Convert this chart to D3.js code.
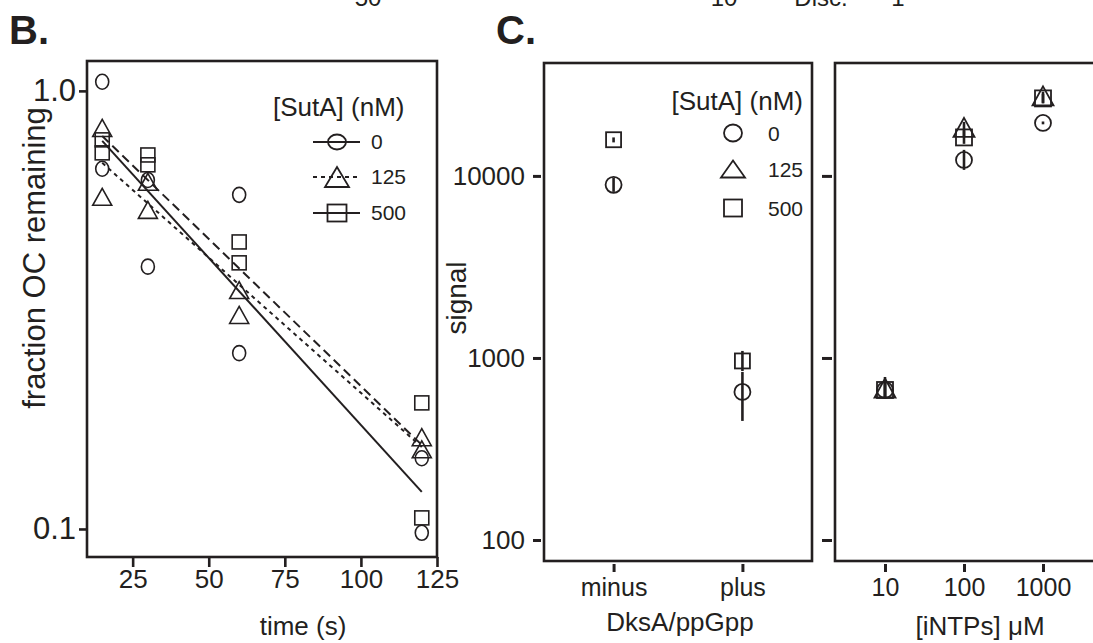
<!DOCTYPE html>
<html><head><meta charset="utf-8">
<script src="https://cdn.jsdelivr.net/npm/d3@7"></script>
<style>
body{margin:0;background:#fff}
svg{display:block}
text{font-family:"Liberation Sans",Arial,Helvetica,sans-serif;fill:#231f20}
</style>
</head><body>
<svg id="chart" width="1093" height="643"></svg>
<script>
// ---------- Panel B data: fraction OC remaining vs time ----------
const bTimes   = [15, 15, 30, 30, 60, 60, 120, 120];
const bSuta0   = [1.049, 0.664, 0.626, 0.397, 0.579, 0.252, 0.145, 0.098];
const bSuta125 = [0.823, 0.573, 0.620, 0.535, 0.351, 0.308, 0.162, 0.152];
const bSuta500 = [0.773, 0.722, 0.714, 0.678, 0.452, 0.405, 0.194, 0.106];
const fitTimes = [15, 120];
const fit0     = [0.769, 0.1215];
const fit125   = [0.685, 0.1538];
const fit500   = [0.789, 0.1555];
const bXTicks  = [25, 50, 75, 100, 125];
const bYTicks  = [0.1, 1.0];
const bYTickLabels = ["0.1", "1.0"];
const legendLabels = ["0", "125", "500"];

// ---------- Panel C data: signal ----------
const dksaCats = ["minus", "plus"];
const dksaCirc = [8930, 651];   const dksaCircLo = [8170, 451];   const dksaCircHi = [9750, 838];
const dksaSq   = [15800, 963];  const dksaSqLo   = [15280, 848];  const dksaSqHi   = [16270, 1093];

const ntpConc  = [10, 100, 1000];
const ntpCirc  = [667, 12240, 19540]; const ntpCircLo = [610, 10790, 19200]; const ntpCircHi = [730, 13900, 19900];
const ntpTri   = [684, 18460, 27500]; const ntpTriLo  = [595, 16300, 25000]; const ntpTriHi  = [786, 19800, 29000];
const ntpSq    = [667, 16270, 26650]; const ntpSqLo   = [610, 15000, 25200]; const ntpSqHi   = [730, 17800, 28200];
const cYTicks  = [100, 1000, 10000];

const INK = "#231f20";
const svg = d3.select("#chart");

function marker(g, shape, cx, cy, w, h, sw) {
  sw = sw || 1.6;
  let el;
  if (shape === "circle") {
    el = g.append("ellipse").attr("cx", cx).attr("cy", cy).attr("rx", w / 2).attr("ry", h / 2);
  } else if (shape === "square") {
    el = g.append("rect").attr("x", cx - w / 2).attr("y", cy - h / 2).attr("width", w).attr("height", h);
  } else {
    el = g.append("path").attr("d", `M${cx},${cy - h / 2}L${cx + w / 2},${cy + h / 2}L${cx - w / 2},${cy + h / 2}Z`);
  }
  el.attr("fill", "none").attr("stroke", INK).attr("stroke-width", sw).attr("stroke-linejoin", "miter");
}

function styleAxis(a, fs, tw) {
  a.select(".domain").remove();
  a.selectAll(".tick line").attr("stroke", INK).attr("stroke-width", tw);
  a.selectAll(".tick text").attr("font-size", fs).attr("fill", INK)
    .attr("font-family", '"Liberation Sans",Arial,sans-serif');
}

// ---------- cropped text on the top edge ----------
const topBits = [["50", 368], ["10", 724], ["Disc.", 821], ["1", 898]];
topBits.forEach(([t, x]) => svg.append("text").attr("x", x).attr("y", 6).attr("text-anchor", "middle")
  .attr("font-size", 24).text(t));

// ---------- panel labels ----------
svg.append("text").attr("x", 9).attr("y", 44).attr("font-size", 40).attr("font-weight", "bold").text("B.");
svg.append("text").attr("x", 496).attr("y", 44).attr("font-size", 40).attr("font-weight", "bold").text("C.");

// ================= Panel B =================
const bx = d3.scaleLinear().domain([10, 125]).range([87, 437]);
const by = d3.scaleLog().domain([0.0863, 1.17]).range([557, 61]);
const gB = svg.append("g");

// fit lines
const fitLine = d3.line().x(d => bx(d[0])).y(d => by(d[1]));
const fits = [[fit0, null], [fit125, "4,4"], [fit500, "9,5"]];
fits.forEach(([vals, dash]) => {
  gB.append("path").datum(fitTimes.map((t, i) => [t, vals[i]])).attr("d", fitLine)
    .attr("fill", "none").attr("stroke", INK).attr("stroke-width", 2).attr("stroke-dasharray", dash);
});

// points
const bSeries = [[bSuta0, "circle", 13, 15], [bSuta125, "triangle", 19, 17], [bSuta500, "square", 14, 14]];
bSeries.forEach(([vals, shape, w, h]) => {
  vals.forEach((v, i) => marker(gB, shape, bx(bTimes[i]), by(v), w, h, 1.6));
});

// frame
gB.append("rect").attr("x", 87).attr("y", 61).attr("width", 350).attr("height", 496)
  .attr("fill", "none").attr("stroke", INK).attr("stroke-width", 2.6);

// axes
const bxAxis = gB.append("g").attr("transform", "translate(0,557)")
  .call(d3.axisBottom(bx).tickValues(bXTicks).tickSize(10).tickPadding(3));
styleAxis(bxAxis, 26, 2.6);
const byAxis = gB.append("g").attr("transform", "translate(87,0)")
  .call(d3.axisLeft(by).tickValues(bYTicks).tickFormat((d, i) => bYTickLabels[i]).tickSize(8).tickPadding(3));
styleAxis(byAxis, 31, 2.6);

gB.append("text").attr("x", 303).attr("y", 635).attr("text-anchor", "middle").attr("font-size", 26).text("time (s)");
gB.append("text").attr("transform", "translate(45,258) rotate(-90)").attr("text-anchor", "middle")
  .attr("font-size", 31).text("fraction OC remaining");

// legend B
gB.append("text").attr("x", 273).attr("y", 116).attr("font-size", 26).text("[SutA] (nM)");
const legB = [["circle", null, 18, 15], ["triangle", "4,4", 24, 20], ["square", null, 19, 17]];
const legBY = [142, 177, 213];
legB.forEach(([shape, dash, w, h], i) => {
  gB.append("line").attr("x1", 313).attr("x2", 360).attr("y1", legBY[i]).attr("y2", legBY[i])
    .attr("stroke", INK).attr("stroke-width", 2).attr("stroke-dasharray", dash);
  marker(gB, shape, 337, legBY[i], w, h, 1.8);
  gB.append("text").attr("x", 371).attr("y", legBY[i] + 7).attr("font-size", 21).text(legendLabels[i]);
});

// ================= Panel C (left) =================
const cy = d3.scaleLog().domain([76.7, 41700]).range([561, 63]);
const cx1 = d3.scalePoint().domain(dksaCats).range([544, 812]).padding(0.54);
const gC = svg.append("g");

function errBar(g, x, lo, hi) {
  g.append("line").attr("x1", x).attr("x2", x).attr("y1", cy(lo)).attr("y2", cy(hi))
    .attr("stroke", INK).attr("stroke-width", 2.6);
}

dksaCats.forEach((c, i) => {
  errBar(gC, cx1(c), dksaCircLo[i], dksaCircHi[i]);
  errBar(gC, cx1(c), dksaSqLo[i], dksaSqHi[i]);
  marker(gC, "circle", cx1(c), cy(dksaCirc[i]), 16, 16, 1.8);
  marker(gC, "square", cx1(c), cy(dksaSq[i]), 15, 15, 1.8);
});

gC.append("rect").attr("x", 544).attr("y", 63).attr("width", 268).attr("height", 498)
  .attr("fill", "none").attr("stroke", INK).attr("stroke-width", 2.6);

const cyAxis = gC.append("g").attr("transform", "translate(541,0)")
  .call(d3.axisLeft(cy).tickValues(cYTicks).tickFormat(d3.format("d")).tickSize(8).tickPadding(8));
styleAxis(cyAxis, 26, 3);
const cx1Axis = gC.append("g").attr("transform", "translate(0,564)")
  .call(d3.axisBottom(cx1).tickSize(8).tickPadding(6));
styleAxis(cx1Axis, 25, 3);

gC.append("text").attr("x", 680).attr("y", 631).attr("text-anchor", "middle").attr("font-size", 26).text("DksA/ppGpp");
gC.append("text").attr("transform", "translate(466,298) rotate(-90)").attr("text-anchor", "middle")
  .attr("font-size", 28).text("signal");

// legend C
gC.append("text").attr("x", 803).attr("y", 110).attr("text-anchor", "end").attr("font-size", 26).text("[SutA] (nM)");
const legC = [["circle", 18, 17], ["triangle", 24, 17], ["square", 18, 17]];
const legCY = [133, 169, 208];
legC.forEach(([shape, w, h], i) => {
  marker(gC, shape, 733, legCY[i], w, h, 1.8);
  gC.append("text").attr("x", 768).attr("y", legCY[i] + 8).attr("font-size", 21).text(legendLabels[i]);
});

// ================= Panel C (right) =================
const cx2 = d3.scaleLog().domain([10, 1000]).range([885, 1043]);
const gD = svg.append("g");
ntpConc.forEach((c, i) => {
  const x = cx2(c);
  errBar(gD, x, ntpCircLo[i], ntpCircHi[i]);
  errBar(gD, x, ntpTriLo[i], ntpTriHi[i]);
  errBar(gD, x, ntpSqLo[i], ntpSqHi[i]);
  marker(gD, "circle", x, cy(ntpCirc[i]), 16, 16, 1.8);
  marker(gD, "square", x, cy(ntpSq[i]), 16, 16, 1.8);
  marker(gD, "triangle", x, cy(ntpTri[i]), 21, 19, 1.8);
});
gD.append("rect").attr("x", 835).attr("y", 63).attr("width", 280).attr("height", 498)
  .attr("fill", "none").attr("stroke", INK).attr("stroke-width", 2.6);

const cy2Axis = gD.append("g").attr("transform", "translate(832,0)")
  .call(d3.axisLeft(cy).tickValues(cYTicks).tickFormat("").tickSize(10));
styleAxis(cy2Axis, 25, 3);
const cx2Axis = gD.append("g").attr("transform", "translate(0,564)")
  .call(d3.axisBottom(cx2).tickValues(ntpConc).tickFormat(d3.format("d")).tickSize(8).tickPadding(6));
styleAxis(cx2Axis, 25, 3);

gD.append("text").attr("x", 980).attr("y", 635).attr("text-anchor", "middle").attr("font-size", 26)
  .text("[iNTPs] \u03BCM");
</script>
</body></html>
